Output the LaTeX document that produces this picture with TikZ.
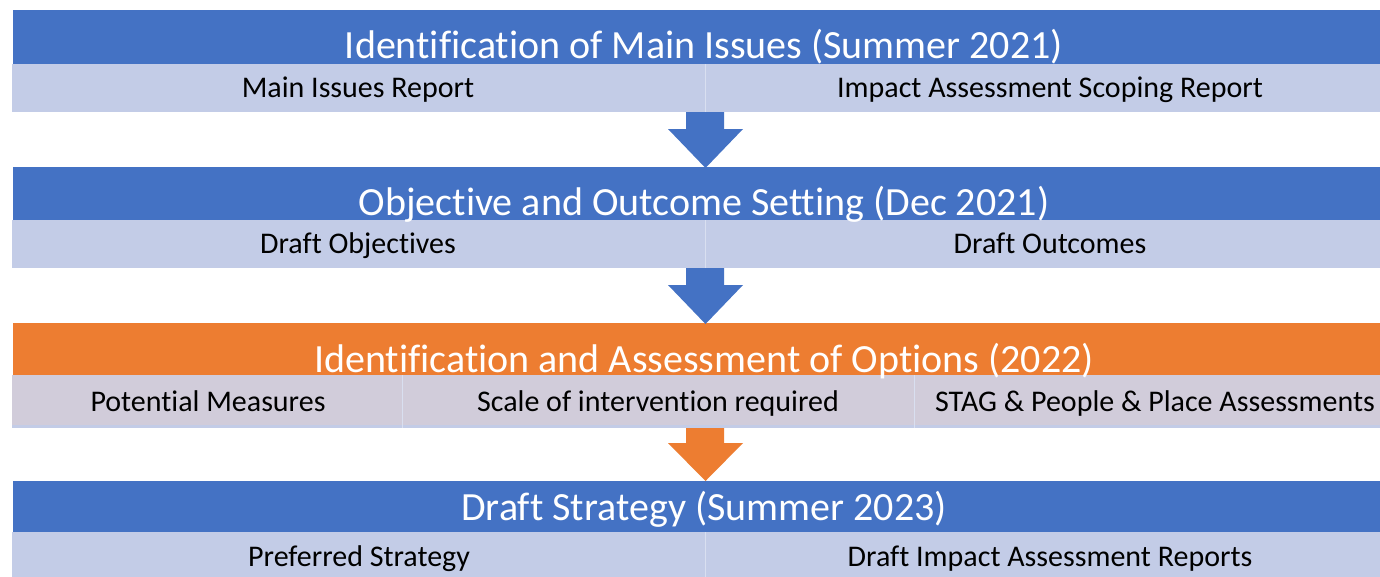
\documentclass[tikz,border=0pt]{standalone}
\usepackage{fontspec}
\setmainfont[Ligatures=NoCommon]{Carlito}
\definecolor{hblue}{HTML}{4472C4}
\definecolor{horange}{HTML}{ED7D31}
\definecolor{sblue}{HTML}{C3CCE7}
\definecolor{sgray}{HTML}{D1CCDA}
\definecolor{divc}{HTML}{D9DFF0}
\begin{document}
\begin{tikzpicture}[x=1pt,y=-1pt,
  htext/.style={text=white,font=\fontsize{40}{44}\selectfont,anchor=base,inner sep=0pt},
  stext/.style={text=black,font=\fontsize{30}{34}\selectfont,anchor=base,inner sep=0pt},
  divline/.style={draw=divc,line width=0.8pt},
  blockarrow/.style={fill=#1,draw=none}]
\useasboundingbox (0,0) rectangle (1380,576);
\clip (0,0) rectangle (1380,576);
\fill[white] (0,0) rectangle (1380,576);

% Band 1
\fill[hblue] (13,10) rectangle (1395,64);
\fill[sblue] (12,64) rectangle (1395,112);
\draw[divline] (705,64) -- (705,112);
\node[htext] (h1) at (704,58) {Identification of Main Issues (Summer 2021)};
\node[stext] (s1a) at (358,97) {Main Issues Report};
\node[stext] (s1b) at (1050,97) {Impact Assessment Scoping Report};

% Band 2
\fill[hblue] (13,167) rectangle (1395,220);
\fill[sblue] (12,220) rectangle (1395,268);
\draw[divline] (705,220) -- (705,268);
\node[htext] (h2) at (704,215) {Objective and Outcome Setting (Dec 2021)};
\node[stext] (s2a) at (358,253) {Draft Objectives};
\node[stext] (s2b) at (1050,253) {Draft Outcomes};

% Band 3
\fill[horange] (13,323) rectangle (1395,375);
\fill[sgray] (12,375) rectangle (1395,425);
\fill[sblue] (12,425) rectangle (1395,428);
\draw[divline] (402,375) -- (402,428);
\draw[divline] (914,375) -- (914,428);
\node[htext] (h3) at (704,372) {Identification and Assessment of Options (2022)};
\node[stext] (s3a) at (208,411) {Potential Measures};
\node[stext] (s3b) at (658,411) {Scale of intervention required};
\node[stext] (s3c) at (1155,411) {STAG \& People \& Place Assessments};

% Band 4
\fill[hblue] (13,481) rectangle (1395,532);
\fill[sblue] (12,532) rectangle (1395,580);
\draw[divline] (705,532) -- (705,580);
\node[htext] (h4) at (704,520) {Draft Strategy (Summer 2023)};
\node[stext] (s4a) at (359,566) {Preferred Strategy};
\node[stext] (s4b) at (1050,566) {Draft Impact Assessment Reports};

% Arrows
\fill[blockarrow=hblue] (686,112) -- (724,112) -- (724,129) -- (743,129) -- (705.5,168) -- (668,129) -- (686,129) -- cycle;
\fill[blockarrow=hblue] (686,268) -- (724,268) -- (724,285) -- (743,285) -- (705.5,324) -- (668,285) -- (686,285) -- cycle;
\fill[blockarrow=horange] (686,428) -- (724,428) -- (724,443) -- (743,443) -- (705.5,481) -- (668,443) -- (686,443) -- cycle;
\end{tikzpicture}
\end{document}
